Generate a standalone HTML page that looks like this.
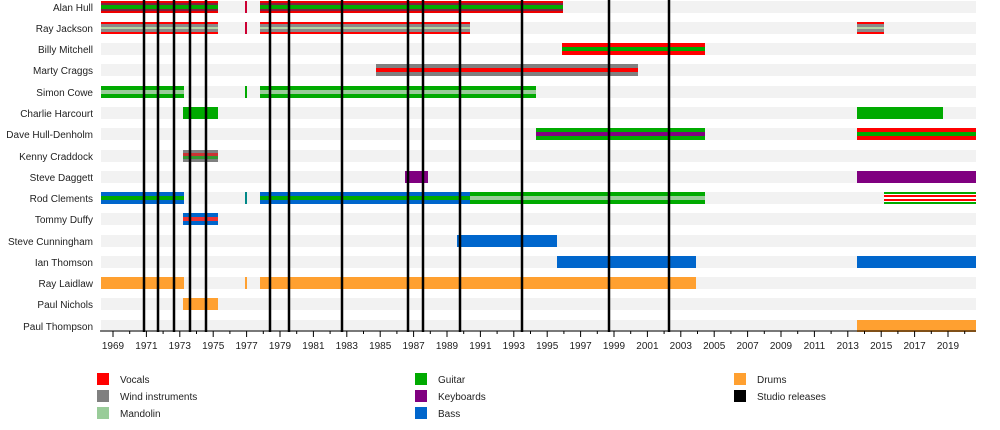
<!DOCTYPE html>
<html><head><meta charset="utf-8"><style>
html,body{margin:0;padding:0;background:#fff;}
svg{display:block;font-family:"Liberation Sans",sans-serif;}
</style></head><body>
<svg width="1000" height="430" viewBox="0 0 1000 430" xmlns="http://www.w3.org/2000/svg">
<g fill="#f2f2f2">
<rect x="101" y="1" width="875" height="12"/><rect x="101" y="22" width="875" height="12"/>
<rect x="101" y="43" width="875" height="12"/><rect x="101" y="64" width="875" height="12"/>
<rect x="101" y="86" width="875" height="12"/><rect x="101" y="107" width="875" height="12"/>
<rect x="101" y="128" width="875" height="12"/><rect x="101" y="150" width="875" height="12"/>
<rect x="101" y="171" width="875" height="12"/><rect x="101" y="192" width="875" height="12"/>
<rect x="101" y="213" width="875" height="12"/><rect x="101" y="235" width="875" height="12"/>
<rect x="101" y="256" width="875" height="12"/><rect x="101" y="277" width="875" height="12"/>
<rect x="101" y="298" width="875" height="12"/><rect x="101" y="320" width="875" height="12"/>
</g>
<g font-size="10" fill="#222" text-anchor="end">
<text x="93" y="11">Alan Hull</text><text x="93" y="32">Ray Jackson</text>
<text x="93" y="53">Billy Mitchell</text><text x="93" y="74">Marty Craggs</text>
<text x="93" y="96">Simon Cowe</text><text x="93" y="117">Charlie Harcourt</text>
<text x="93" y="138">Dave Hull-Denholm</text><text x="93" y="160">Kenny Craddock</text>
<text x="93" y="181">Steve Daggett</text><text x="93" y="202">Rod Clements</text>
<text x="93" y="223">Tommy Duffy</text><text x="93" y="245">Steve Cunningham</text>
<text x="93" y="266">Ian Thomson</text><text x="93" y="287">Ray Laidlaw</text>
<text x="93" y="308">Paul Nichols</text><text x="93" y="330">Paul Thompson</text>
</g>
<!-- Alan Hull -->
<g>
<rect x="101" y="1" width="117" height="12" fill="#e00"/><rect x="101" y="3" width="117" height="8" fill="#802040"/><rect x="101" y="5" width="117" height="4" fill="#0a0"/>
<rect x="245" y="1" width="2" height="12" fill="#c03"/>
<rect x="260" y="1" width="303" height="12" fill="#e00"/><rect x="260" y="3" width="303" height="8" fill="#802040"/><rect x="260" y="5" width="303" height="4" fill="#0a0"/>
</g>
<!-- Ray Jackson -->
<g>
<rect x="101" y="22" width="117" height="12" fill="#f00"/><rect x="101" y="24" width="117" height="8" fill="#8a8a8a"/><rect x="101" y="27" width="117" height="2" fill="#b5d5a5"/>
<rect x="245" y="22" width="2" height="12" fill="#c03"/>
<rect x="260" y="22" width="210" height="12" fill="#f00"/><rect x="260" y="24" width="210" height="8" fill="#8a8a8a"/><rect x="260" y="27" width="210" height="2" fill="#b5d5a5"/>
<rect x="857" y="22" width="27" height="12" fill="#f00"/><rect x="857" y="24" width="27" height="8" fill="#8a8a8a"/><rect x="857" y="27" width="27" height="2" fill="#b5d5a5"/>
</g>
<!-- Billy Mitchell -->
<rect x="562" y="43" width="143" height="12" fill="#f00"/><rect x="562" y="47" width="143" height="4" fill="#0a0"/>
<!-- Marty -->
<rect x="376" y="64" width="262" height="12" fill="#808080"/><rect x="376" y="68" width="262" height="4" fill="#f00"/>
<!-- Simon Cowe -->
<rect x="101" y="86" width="83" height="12" fill="#0a0"/><rect x="101" y="90" width="83" height="4" fill="#9c9"/>
<rect x="245" y="86" width="2" height="12" fill="#0a0"/>
<rect x="260" y="86" width="276" height="12" fill="#0a0"/><rect x="260" y="90" width="276" height="4" fill="#9c9"/>
<!-- Charlie -->
<rect x="183" y="107" width="35" height="12" fill="#0a0"/><rect x="857" y="107" width="86" height="12" fill="#0a0"/>
<!-- Dave -->
<rect x="536" y="128" width="169" height="12" fill="#0a0"/><rect x="536" y="132" width="169" height="4" fill="#800080"/>
<rect x="857" y="128" width="119" height="12" fill="#f00"/><rect x="857" y="132" width="119" height="4" fill="#0a0"/>
<!-- Kenny -->
<rect x="183" y="150" width="35" height="12" fill="#808080"/><rect x="183" y="153" width="35" height="3" fill="#c33"/><rect x="183" y="156" width="35" height="3" fill="#393"/>
<!-- Steve Daggett -->
<rect x="405" y="171" width="23" height="12" fill="#800080"/><rect x="857" y="171" width="119" height="12" fill="#800080"/>
<!-- Rod -->
<rect x="101" y="192" width="83" height="12" fill="#0066cc"/><rect x="101" y="196" width="83" height="4" fill="#0a0"/>
<rect x="245" y="192" width="2" height="12" fill="#088"/>
<rect x="260" y="192" width="210" height="12" fill="#0066cc"/><rect x="260" y="196" width="210" height="4" fill="#0a0"/>
<rect x="470" y="192" width="235" height="12" fill="#0a0"/><rect x="470" y="196" width="235" height="4" fill="#9c9"/>
<rect x="884" y="192" width="92" height="12" fill="#0a0"/><rect x="884" y="194" width="92" height="8" fill="#fff"/><rect x="884" y="195" width="92" height="6" fill="#f00"/><rect x="884" y="197" width="92" height="2" fill="#fff"/>
<!-- Tommy -->
<rect x="183" y="213" width="35" height="12" fill="#0066cc"/><rect x="183" y="217" width="35" height="4" fill="#e33"/>
<!-- Steve C -->
<rect x="457" y="235" width="100" height="12" fill="#0066cc"/>
<!-- Ian -->
<rect x="557" y="256" width="139" height="12" fill="#0066cc"/><rect x="857" y="256" width="119" height="12" fill="#0066cc"/>
<!-- Ray Laidlaw -->
<rect x="101" y="277" width="83" height="12" fill="#ffa030"/><rect x="245" y="277" width="2" height="12" fill="#ffa030"/><rect x="260" y="277" width="436" height="12" fill="#ffa030"/>
<!-- Paul Nichols -->
<rect x="183" y="298" width="35" height="12" fill="#ffa030"/>
<!-- Paul Thompson -->
<rect x="857" y="320" width="119" height="12" fill="#ffa030"/>
<!-- studio releases -->
<g stroke="#000" stroke-width="2.5">
<line x1="144" y1="0" x2="144" y2="332"/><line x1="158" y1="0" x2="158" y2="332"/>
<line x1="174" y1="0" x2="174" y2="332"/><line x1="190" y1="0" x2="190" y2="332"/>
<line x1="206" y1="0" x2="206" y2="332"/><line x1="270" y1="0" x2="270" y2="332"/>
<line x1="289" y1="0" x2="289" y2="332"/><line x1="342" y1="0" x2="342" y2="332"/>
<line x1="408" y1="0" x2="408" y2="332"/><line x1="423" y1="0" x2="423" y2="332"/>
<line x1="460" y1="0" x2="460" y2="332"/><line x1="522" y1="0" x2="522" y2="332"/>
<line x1="609" y1="0" x2="609" y2="332"/><line x1="669" y1="0" x2="669" y2="332"/>
</g>
<!-- axis -->
<line x1="100" y1="331" x2="976" y2="331" stroke="#000" stroke-width="1"/>
<g stroke="#000" stroke-width="1" id="ticks">
<path d="M113 331v6M146.4 331v6M179.8 331v6M213.2 331v6M246.6 331v6M280 331v6M313.4 331v6M346.8 331v6M380.2 331v6M413.6 331v6M447 331v6M480.4 331v6M513.8 331v6M547.2 331v6M580.6 331v6M614 331v6M647.4 331v6M680.8 331v6M714.2 331v6M747.6 331v6M781 331v6M814.4 331v6M847.8 331v6M881.2 331v6M914.6 331v6M948 331v6"/>
<path d="M129.7 331v3M163.1 331v3M196.5 331v3M229.9 331v3M263.3 331v3M296.7 331v3M330.1 331v3M363.5 331v3M396.9 331v3M430.3 331v3M463.7 331v3M497.1 331v3M530.5 331v3M563.9 331v3M597.3 331v3M630.7 331v3M664.1 331v3M697.5 331v3M730.9 331v3M764.3 331v3M797.7 331v3M831.1 331v3M864.5 331v3M897.9 331v3M931.3 331v3M964.7 331v3"/>
</g>
<g font-size="10" fill="#222" text-anchor="middle">
<text x="113" y="349">1969</text><text x="146.4" y="349">1971</text><text x="179.8" y="349">1973</text><text x="213.2" y="349">1975</text><text x="246.6" y="349">1977</text><text x="280" y="349">1979</text><text x="313.4" y="349">1981</text><text x="346.8" y="349">1983</text><text x="380.2" y="349">1985</text><text x="413.6" y="349">1987</text><text x="447" y="349">1989</text><text x="480.4" y="349">1991</text><text x="513.8" y="349">1993</text><text x="547.2" y="349">1995</text><text x="580.6" y="349">1997</text><text x="614" y="349">1999</text><text x="647.4" y="349">2001</text><text x="680.8" y="349">2003</text><text x="714.2" y="349">2005</text><text x="747.6" y="349">2007</text><text x="781" y="349">2009</text><text x="814.4" y="349">2011</text><text x="847.8" y="349">2013</text><text x="881.2" y="349">2015</text><text x="914.6" y="349">2017</text><text x="948" y="349">2019</text>
</g>
<!-- legend -->
<g font-size="10" fill="#222">
<rect x="97" y="373" width="12" height="12" fill="#f00"/><text x="120" y="383">Vocals</text>
<rect x="97" y="390" width="12" height="12" fill="#808080"/><text x="120" y="400">Wind instruments</text>
<rect x="97" y="407" width="12" height="12" fill="#9c9"/><text x="120" y="417">Mandolin</text>
<rect x="415" y="373" width="12" height="12" fill="#0a0"/><text x="438" y="383">Guitar</text>
<rect x="415" y="390" width="12" height="12" fill="#800080"/><text x="438" y="400">Keyboards</text>
<rect x="415" y="407" width="12" height="12" fill="#0066cc"/><text x="438" y="417">Bass</text>
<rect x="734" y="373" width="12" height="12" fill="#ffa030"/><text x="757" y="383">Drums</text>
<rect x="734" y="390" width="12" height="12" fill="#000"/><text x="757" y="400">Studio releases</text>
</g>
</svg>
</body></html>
